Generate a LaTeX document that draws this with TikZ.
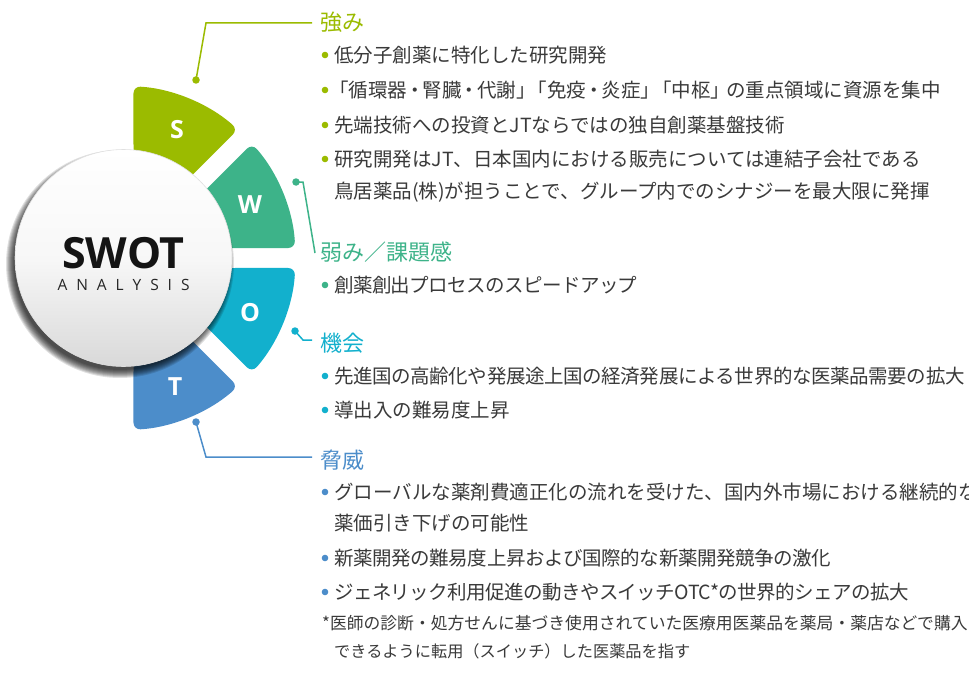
\documentclass[tikz,border=0pt]{standalone}
\usepackage{fontspec}
\setmainfont{Open Sans}
\newfontfamily\jp{Noto Sans CJK JP}
\newfontfamily\jpa[LetterSpace=-3]{Noto Sans CJK JP}
\newfontfamily\jpb[LetterSpace=-2]{Noto Sans CJK JP}
\newfontfamily\swot{Open Sans}
\newcommand\lbk{\kern-4pt「}
\newcommand\rbk{」\kern-4pt}
\newcommand\mdt{\kern-2pt・\kern-2pt}
\definecolor{cS}{HTML}{9BBB00}
\definecolor{cW}{HTML}{3DB389}
\definecolor{cO}{HTML}{12B0CD}
\definecolor{cT}{HTML}{4C8DCA}
\definecolor{txt}{HTML}{3A3A3A}
\tikzset{
  seg/.style={rounded corners=7pt},
  letter/.style={text=white, inner sep=0, font=\swot\bfseries\fontsize{25}{25}\selectfont},
  head/.style={anchor=west, inner sep=0, font=\jp\fontsize{22}{22}\selectfont},
  body/.style={anchor=west, inner sep=0, text=txt, font=\jp\fontsize{19.5}{19.5}\selectfont},
  bodya/.style={body, font=\jpa\fontsize{19.5}{19.5}\selectfont},
  bodyb/.style={body, font=\jpb\fontsize{19.5}{19.5}\selectfont},
  note/.style={anchor=west, inner sep=0, text=txt, font=\jp\fontsize{16.8}{16.8}\selectfont},
  conn/.style={line width=1.5pt},
  dotc/.style={circle, inner sep=0, minimum size=7.5pt},
  bul/.style={radius=3.3pt}
}
\begin{document}
\begin{tikzpicture}[x=1pt,y=-1pt]
\useasboundingbox (0,0) rectangle (969,674);
\clip (0,0) rectangle (969,674);
\fill[white] (0,0) rectangle (969,674);

% wheel segments
\begin{scope}[shift={(123.5,258)}]
  \fill[cS,seg] (-86.67:172) arc[start angle=-86.67, end angle=-48.33, radius=172]
     -- (-50.74:100) arc[start angle=-50.74, end angle=-84.26, radius=100] -- cycle;
  \fill[cW,seg] (-41.67:172) arc[start angle=-41.67, end angle=-3.33, radius=172]
     -- (-5.74:100) arc[start angle=-5.74, end angle=-39.26, radius=100] -- cycle;
  \fill[cO,seg] (3.33:172) arc[start angle=3.33, end angle=41.67, radius=172]
     -- (39.26:100) arc[start angle=39.26, end angle=5.74, radius=100] -- cycle;
  \fill[cT,seg] (48.33:172) arc[start angle=48.33, end angle=86.67, radius=172]
     -- (84.26:100) arc[start angle=84.26, end angle=50.74, radius=100] -- cycle;
  % shadow
  \foreach \r in {114,113,112,111,110,109,108,107,106}
    \fill[black, opacity=0.12] (-3.5,6) circle (\r);
  % main circle
  \shade[top color=white, bottom color=black!15, middle color=black!3]
    (0,0) circle (108.5);
  \draw[black!12, line width=0.6pt] (0,0) circle (108.5);
\end{scope}

\node[letter] (lS) at (177,130) {S};
\node[letter] (lW) at (250,205) {W};
\node[letter] (lO) at (250,313) {O};
\node[letter] (lT) at (175,387) {T};

\node[inner sep=0, text=black!92, font=\swot\bfseries\fontsize{43}{43}\selectfont] (swot) at (123.5,253) {SWOT};
\node[inner sep=0, text=black!85, font=\swot\fontsize{15.5}{15.5}\selectfont] (ana) at (123.5,285)
  {\makebox[132pt][l]{A\hfill N\hfill A\hfill L\hfill Y\hfill S\hfill I\hfill S}};

% headings
\node[head, text=cS] (hS) at (320,22) {強み};
\node[head, text=cW] (hW) at (320,252) {弱み／課題感};
\node[head, text=cO] (hO) at (320,343) {機会};
\node[head, text=cT] (hT) at (320,460) {脅威};

% connectors
\node[dotc, fill=cS] (dS) at (196,80) {};
\node[dotc, fill=cW] (dW) at (296,182) {};
\node[dotc, fill=cO] (dO) at (295,331) {};
\node[dotc, fill=cT] (dT) at (196,422) {};
\coordinate (bS) at (206,23);
\coordinate (eS) at (312,23);
\coordinate (bW1) at (303,182);
\coordinate (eW) at (315,253);
\coordinate (bO) at (303,340);
\coordinate (eO) at (312,340);
\coordinate (bT) at (206,457);
\coordinate (eT) at (312,457);
\draw[conn, cS] (dS.center) -- (bS) -- (eS);
\draw[conn, cW] (dW.center) -- (bW1) -- (eW);
\draw[conn, cO] (dO.center) -- (bO) -- (eO);
\draw[conn, cT] (dT.center) -- (bT) -- (eT);

% strengths
\fill[cS] (325,55) circle[bul];
\node[body] (s1) at (334,55) {低分子創薬に特化した研究開発};
\fill[cS] (325,90) circle[bul];
\node[body] (s2) at (329,90) {「循環器\mdt 腎臓\mdt 代謝\rbk\lbk 免疫\mdt 炎症\rbk\lbk 中枢\rbk の重点領域に資源を集中};
\fill[cS] (325,125) circle[bul];
\node[body] (s3) at (334,125) {先端技術への投資とJTならではの独自創薬基盤技術};
\fill[cS] (325,159) circle[bul];
\node[body] (s4) at (334,159) {研究開発はJT、日本国内における販売については連結子会社である};
\node[body] (s5) at (334,192) {鳥居薬品(株)が担うことで、グループ内でのシナジーを最大限に発揮};

% weaknesses
\fill[cW] (325,285) circle[bul];
\node[bodya] (w1) at (334,285) {創薬創出プロセスのスピードアップ};

% opportunities
\fill[cO] (325,376) circle[bul];
\node[bodyb] (o1) at (334,376) {先進国の高齢化や発展途上国の経済発展による世界的な医薬品需要の拡大};
\fill[cO] (325,410) circle[bul];
\node[body] (o2) at (334,410) {導出入の難易度上昇};

% threats
\fill[cT] (325,492) circle[bul];
\node[body] (t1) at (334,492) {グローバルな薬剤費適正化の流れを受けた、国内外市場における継続的な};
\node[body] (t2) at (334,523) {薬価引き下げの可能性};
\fill[cT] (325,558) circle[bul];
\node[bodyb] (t3) at (334,558) {新薬開発の難易度上昇および国際的な新薬開発競争の激化};
\fill[cT] (325,592) circle[bul];
\node[bodya] (t4) at (334,592) {ジェネリック利用促進の動きやスイッチOTC*の世界的シェアの拡大};

% footnote
\node[note] (n1) at (322,623) {*医師の診断・処方せんに基づき使用されていた医療用医薬品を薬局・薬店などで購入};
\node[note, font=\jp\fontsize{16.2}{16.2}\selectfont] (n2) at (334,651) {できるように転用（スイッチ）した医薬品を指す};
\end{tikzpicture}
\end{document}
